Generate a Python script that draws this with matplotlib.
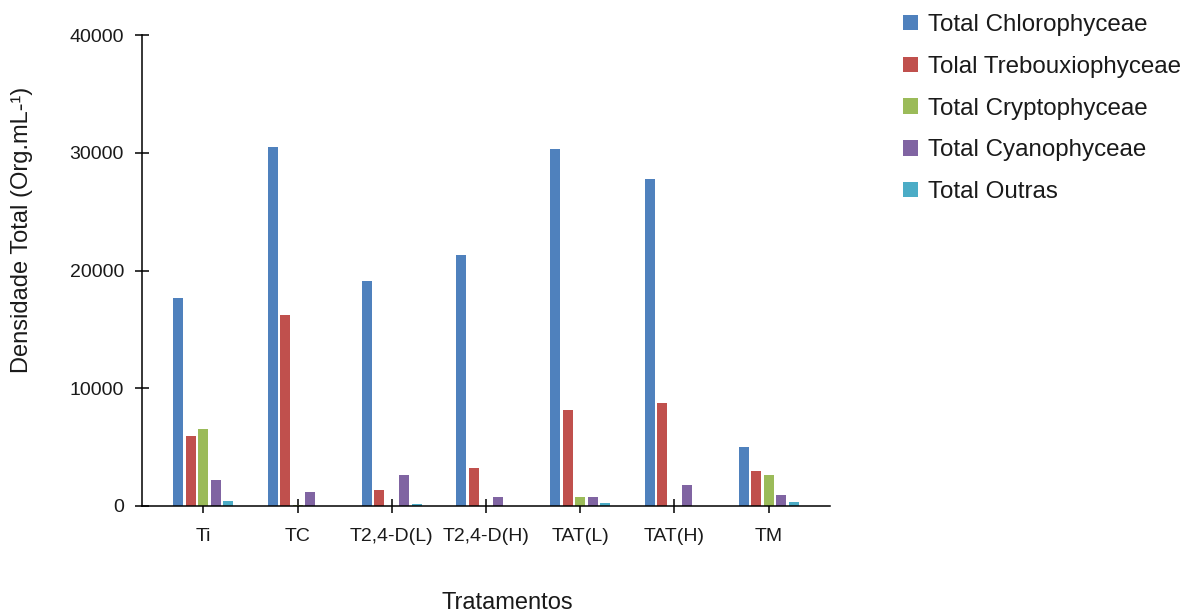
import matplotlib
matplotlib.use("Agg")
import matplotlib.pyplot as plt
from matplotlib.patches import Patch
import numpy as np

plt.rcParams['font.family'] = ['Liberation Sans', 'DejaVu Sans']

# treatments on the x axis
tratamentos = ["Ti", "TC", "T2,4-D(L)", "T2,4-D(H)", "TAT(L)", "TAT(H)", "TM"]

# densities (Org/mL)
chlorophyceae = [17700, 30450, 19100, 21350, 30300, 27800, 5000]
trebouxiophyceae = [5950, 16250, 1380, 3250, 8150, 8750, 2950]
cryptophyceae = [6550, 100, 0, 0, 760, 0, 2630]
cyanophyceae = [2200, 1190, 2630, 760, 760, 1780, 960]
outras = [450, 0, 150, 0, 250, 0, 340]

series = [
    ("Total Chlorophyceae", chlorophyceae, "#4F81BD"),
    ("Tolal Trebouxiophyceae", trebouxiophyceae, "#C0504D"),
    ("Total Cryptophyceae", cryptophyceae, "#9BBB59"),
    ("Total Cyanophyceae", cyanophyceae, "#8064A2"),
    ("Total Outras", outras, "#4BACC6"),
]

fig = plt.figure(figsize=(11.83, 6.13), dpi=100)
ax = fig.add_axes([142 / 1183, 1 - 506 / 613, 688 / 1183, 471 / 613])

x = np.arange(len(tratamentos))
step = 0.132
for i, (name, vals, col) in enumerate(series):
    ax.bar(x + (i - 2) * step, vals, width=0.106, color=col, zorder=2)

ax.set_xlim(-0.65, 6.65)
ax.set_ylim(0, 40000)
ax.set_yticks([0, 10000, 20000, 30000, 40000])
ax.set_xticks(x)
ax.set_xticklabels(tratamentos)

for s in ["top", "right"]:
    ax.spines[s].set_visible(False)
for s in ["left", "bottom"]:
    ax.spines[s].set_linewidth(1.1)
    ax.spines[s].set_zorder(3)

ax.tick_params(axis="both", direction="inout", length=10, width=1.1,
               labelsize=14, colors="black", labelcolor="#1a1a1a")
ax.tick_params(axis="x", pad=11)
ax.tick_params(axis="y", pad=8)

fig.text(22 / 1183, 1 - 230 / 613, "Densidade Total (Org.mL-¹)", rotation=90,
         ha="center", va="center", fontsize=17, color="#1a1a1a")
fig.text(507 / 1183, 1 - 603 / 613, "Tratamentos", ha="center", va="center",
         fontsize=17, color="#1a1a1a")

handles = [Patch(facecolor=c, edgecolor="none") for _, _, c in series]
labels = [n for n, _, _ in series]
fig.legend(handles, labels, loc="upper left", bbox_to_anchor=(903 / 1183, 1 - 14 / 613),
           frameon=False, fontsize=17.4, handlelength=0.6, handleheight=0.6,
           handletextpad=0.45, labelspacing=0.82, borderpad=0, borderaxespad=0,
           labelcolor="#1a1a1a")

fig.savefig("out.png", dpi=100)
